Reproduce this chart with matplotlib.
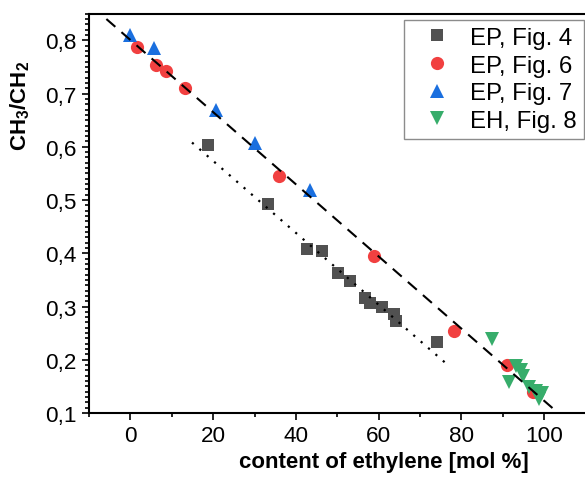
import matplotlib
matplotlib.use("Agg")
import matplotlib.pyplot as plt
import numpy as np
from matplotlib.ticker import MultipleLocator, FuncFormatter

plt.rcParams['font.family'] = ['Liberation Sans', 'DejaVu Sans']
plt.rcParams['mathtext.fontset'] = 'custom'
plt.rcParams['mathtext.rm'] = 'Liberation Sans'
plt.rcParams['mathtext.bf'] = 'Liberation Sans:bold'

# Data (x: content of ethylene [mol %], y: CH3/CH2)
ep4_x = [18.7, 33.2, 42.7, 46.4, 50.2, 53.2, 56.7, 58.0, 60.8, 63.7, 64.3, 74.0]
ep4_y = [0.604, 0.492, 0.408, 0.404, 0.363, 0.348, 0.316, 0.306, 0.299, 0.286, 0.273, 0.233]

ep6_x = [1.5, 6.3, 8.6, 13.2, 36.0, 58.9, 78.2, 91.1, 97.4]
ep6_y = [0.788, 0.753, 0.742, 0.711, 0.545, 0.394, 0.254, 0.191, 0.139]

ep7_x = [0.0, 5.6, 20.7, 30.1, 43.5]
ep7_y = [0.810, 0.785, 0.669, 0.607, 0.519]

eh8_x = [87.5, 93.3, 94.3, 95.0, 91.5, 96.4, 98.0, 99.6, 98.8]
eh8_y = [0.239, 0.188, 0.180, 0.170, 0.158, 0.148, 0.142, 0.137, 0.126]

# Fit lines (endpoints)
dash_x = [-5.8, 102.8]
dash_y = [0.840, 0.104]
dot_x = [14.9, 77.2]
dot_y = [0.608, 0.187]

labels = ["EP, Fig. 4", "EP, Fig. 6", "EP, Fig. 7", "EH, Fig. 8"]
colors = ["#515151", "#F14040", "#1A6FDF", "#37AD6B"]

fig = plt.figure(figsize=(5.85, 4.81), dpi=100)
W, H = 585, 481
ax = fig.add_axes([89 / W, 1 - 414 / H, (585.5 - 89) / W, (414 - 14.7) / H])

ax.plot(dash_x, dash_y, color='black', lw=1.5, linestyle=(0, (5.7, 3.9)), zorder=3)
ax.plot(dot_x, dot_y, color='black', lw=1.6, linestyle=(0, (1, 3.4)), zorder=3)

ax.plot(ep4_x, ep4_y, 's', color=colors[0], ms=8.5, mew=0, label=labels[0], zorder=2)
ax.plot(ep6_x, ep6_y, 'o', color=colors[1], ms=9.5, mew=0, label=labels[1], zorder=2)
ax.plot(ep7_x, ep7_y, '^', color=colors[2], ms=10.5, mew=0, label=labels[2], zorder=2)
ax.plot(eh8_x, eh8_y, 'v', color=colors[3], ms=10.5, mew=0, label=labels[3], zorder=2)

ax.set_xlim(-10, 110)
ax.set_ylim(0.1, 0.85)

ax.xaxis.set_major_locator(MultipleLocator(20))
ax.xaxis.set_minor_locator(MultipleLocator(10))
ax.yaxis.set_major_locator(MultipleLocator(0.1))
ax.yaxis.set_minor_locator(MultipleLocator(0.01))
ax.yaxis.set_major_formatter(FuncFormatter(lambda v, p: ("%.1f" % v).replace('.', ',')))

for s in ['left', 'bottom', 'top']:
    ax.spines[s].set_linewidth(1.5)
ax.spines['right'].set_visible(False)

ax.tick_params(axis='both', which='major', direction='out', length=5, width=1.2,
               labelsize=16.2, pad=4)
ax.tick_params(axis='both', which='minor', direction='out', length=2.8, width=1.2)
ax.tick_params(top=False, right=False, which='both')

ax.set_xlabel("content of ethylene [mol %]", fontsize=16, fontweight='bold')
ax.xaxis.set_label_coords(0.593, -0.095)
ax.set_ylabel(r"CH$_\mathbf{3}$/CH$_\mathbf{2}$", fontsize=16, fontweight='bold')
ax.yaxis.set_label_coords(-0.115, 0.771)

leg = ax.legend(loc='upper right', bbox_to_anchor=(0.997, 1 - 6 / 399.3), borderaxespad=0,
                fontsize=17.3, numpoints=1, fancybox=False, framealpha=1,
                edgecolor='#8c8c8c', handlelength=2.1, handletextpad=0.35,
                borderpad=0.3, labelspacing=0.235)
leg.get_frame().set_linewidth(1.0)

fig.savefig("out.png", dpi=100)
